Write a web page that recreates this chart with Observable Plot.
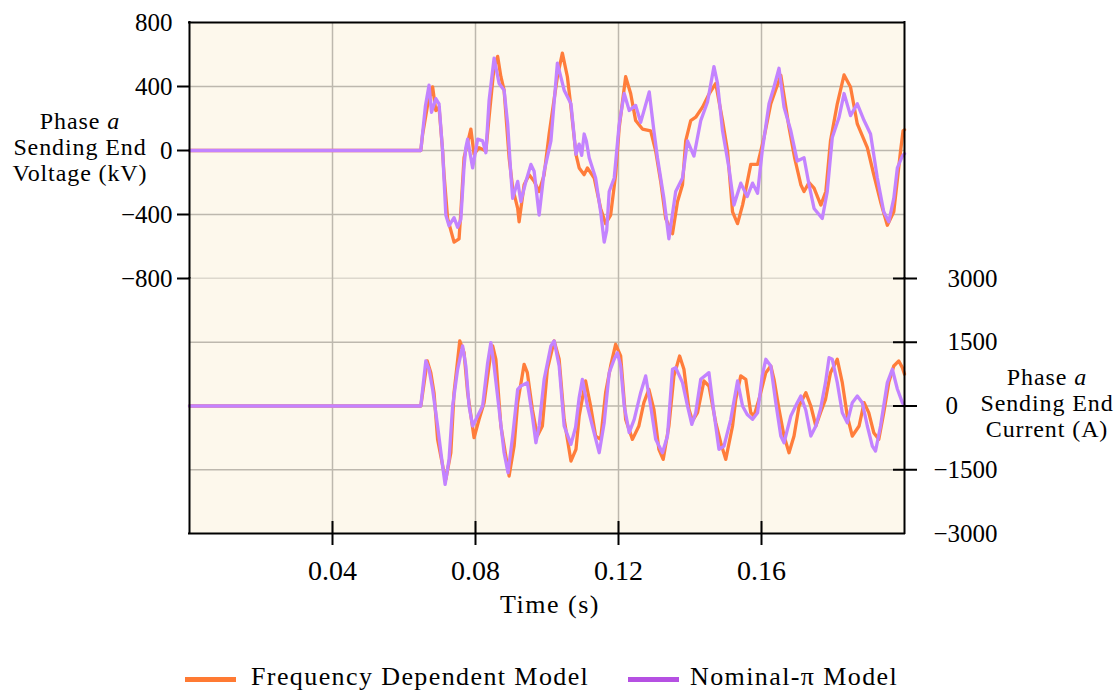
<!DOCTYPE html>
<html>
<head>
<meta charset="utf-8">
<script src="https://cdn.jsdelivr.net/npm/d3@7"></script>
<script src="https://cdn.jsdelivr.net/npm/@observablehq/plot@0.6"></script>
<style>
  body { margin: 0; background: #ffffff; }
  #fig { position: relative; width: 1117px; height: 692px; font-family: "Liberation Serif", serif; color: #000; overflow: hidden; }
  #fig svg { position: absolute; left: 0; }
  .lbl { position: absolute; font-size: 24px; line-height: 26px; text-align: center; white-space: nowrap; letter-spacing: 0.9px; transform: translate(-50%, -50%); }
  .xl { font-size: 26px; letter-spacing: 1.5px; }
  .leg { position: absolute; font-size: 26px; line-height: 30px; white-space: nowrap; letter-spacing: 1.4px; }
  .sw { position: absolute; height: 5px; width: 51px; }
</style>
</head>
<body>
<div id="fig">
  <div class="lbl" style="left:80px; top:147px;">Phase <i>a</i><br>Sending End<br>Voltage (kV)</div>
  <div class="lbl" style="left:1047px; top:403px;">Phase <i>a</i><br>Sending End<br>Current (A)</div>
  <div class="lbl xl" style="left:550px; top:605px;">Time (s)</div>
  <span class="sw" style="left:185px; top:677px; background:#ff7a33;"></span>
  <span class="leg" style="left:251px; top:662px;">Frequency Dependent Model</span>
  <span class="sw" style="left:628px; top:677px; background:#b550e2;"></span>
  <span class="leg" style="left:690px; top:662px;">Nominal-π Model</span>
</div>
<script>
// Phase a sending-end waveforms after the fault (time in s)
const timeTicks = [0.04, 0.08, 0.12, 0.16];
const voltageTicks = [800, 400, 0, -400, -800];
const currentTicks = [3000, 1500, 0, -1500, -3000];

// Frequency dependent model, voltage (kV)
const fdVoltageTime = [0, 0.0647, 0.0652, 0.0665, 0.0680, 0.0689, 0.0698, 0.0708, 0.0712, 0.0722, 0.0740, 0.0754, 0.0759, 0.0768, 0.0787, 0.0796, 0.0810, 0.0829, 0.0838, 0.0852, 0.0862, 0.0871, 0.0880, 0.0894, 0.0904, 0.0918, 0.0922, 0.0936, 0.0950, 0.0964, 0.0978, 0.0992, 0.1006, 0.1029, 0.1043, 0.1057, 0.1067, 0.1081, 0.1090, 0.1104, 0.1113, 0.1132, 0.1150, 0.1164, 0.1178, 0.1192, 0.1202, 0.1220, 0.1234, 0.1248, 0.1267, 0.1290, 0.1304, 0.1318, 0.1332, 0.1351, 0.1365, 0.1379, 0.1388, 0.1402, 0.1416, 0.1435, 0.1454, 0.1472, 0.1491, 0.1505, 0.1519, 0.1533, 0.1547, 0.1551, 0.1570, 0.1589, 0.1607, 0.1626, 0.1654, 0.1677, 0.1693, 0.1710, 0.1719, 0.1733, 0.1747, 0.1766, 0.1780, 0.1793, 0.1812, 0.1831, 0.1849, 0.1868, 0.1896, 0.1914, 0.1933, 0.1952, 0.1970, 0.1989, 0.1996, 0.2000];
const fdVoltage = [0, 0, 100, 271, 398, 250, 271, -3, -151, -425, -573, -552, -383, -45, 134, -24, 18, -3, 208, 525, 588, 461, 377, -45, -235, -362, -446, -214, -151, -193, -256, -151, 103, 461, 609, 461, 271, -24, -109, -151, -109, -172, -362, -457, -404, -151, 144, 461, 356, 187, 134, 123, -3, -193, -425, -520, -320, -214, 60, 187, 208, 271, 356, 419, 187, -3, -383, -457, -341, -299, -87, -87, 81, 292, 470, 144, -50, -214, -256, -200, -235, -341, -256, 60, 292, 472, 397, 166, 18, -150, -320, -467, -383, -3, 123, 130];

// Nominal-pi model, voltage (kV)
const piVoltageTime = [0, 0.0647, 0.0660, 0.0670, 0.0677, 0.0689, 0.0698, 0.0708, 0.0717, 0.0726, 0.0740, 0.0750, 0.0759, 0.0768, 0.0773, 0.0778, 0.0785, 0.0792, 0.0806, 0.0820, 0.0829, 0.0838, 0.0852, 0.0866, 0.0880, 0.0890, 0.0899, 0.0904, 0.0918, 0.0927, 0.0941, 0.0955, 0.0964, 0.0978, 0.0992, 0.1011, 0.1029, 0.1048, 0.1067, 0.1081, 0.1090, 0.1097, 0.1104, 0.1110, 0.1118, 0.1136, 0.1150, 0.1160, 0.1167, 0.1174, 0.1188, 0.1202, 0.1216, 0.1230, 0.1248, 0.1262, 0.1286, 0.1299, 0.1309, 0.1327, 0.1341, 0.1360, 0.1379, 0.1393, 0.1411, 0.1430, 0.1449, 0.1467, 0.1477, 0.1491, 0.1509, 0.1523, 0.1542, 0.1560, 0.1575, 0.1589, 0.1602, 0.1621, 0.1635, 0.1649, 0.1663, 0.1682, 0.1700, 0.1719, 0.1733, 0.1747, 0.1770, 0.1784, 0.1798, 0.1817, 0.1831, 0.1849, 0.1868, 0.1887, 0.1905, 0.1924, 0.1942, 0.1956, 0.1970, 0.1980, 0.1994, 0.2000];
const piVoltage = [0, 0, 280, 408, 239, 324, 292, -3, -404, -470, -420, -480, -430, -100, 18, 71, -20, -109, 71, 60, -14, 313, 577, 419, 377, 166, -151, -299, -193, -320, -193, -87, -130, -404, -130, 60, 546, 377, 292, -24, 40, -30, 103, 60, -45, -172, -383, -573, -500, -256, -172, 166, 356, 250, 282, 176, 366, 123, -45, -299, -552, -256, -172, 60, -35, 187, 303, 524, 419, 123, -109, -341, -204, -288, -204, -267, -3, 292, 397, 514, 271, 123, -66, -45, -214, -362, -425, -256, 81, 208, 356, 218, 292, 187, 103, -172, -383, -446, -299, -109, -35, -20];

// Frequency dependent model, current (A)
const fdCurrentTime = [0, 0.0647, 0.0665, 0.0675, 0.0684, 0.0694, 0.0712, 0.0717, 0.0731, 0.0740, 0.0756, 0.0768, 0.0778, 0.0796, 0.0810, 0.0824, 0.0843, 0.0848, 0.0857, 0.0871, 0.0894, 0.0908, 0.0918, 0.0936, 0.0945, 0.0959, 0.0973, 0.0987, 0.1001, 0.1020, 0.1034, 0.1048, 0.1067, 0.1081, 0.1090, 0.1108, 0.1122, 0.1136, 0.1150, 0.1164, 0.1178, 0.1192, 0.1206, 0.1220, 0.1239, 0.1257, 0.1271, 0.1285, 0.1299, 0.1313, 0.1325, 0.1341, 0.1355, 0.1371, 0.1383, 0.1397, 0.1407, 0.1421, 0.1439, 0.1453, 0.1472, 0.1486, 0.1500, 0.1519, 0.1528, 0.1542, 0.1556, 0.1570, 0.1579, 0.1593, 0.1612, 0.1626, 0.1635, 0.1649, 0.1663, 0.1677, 0.1691, 0.1705, 0.1724, 0.1738, 0.1752, 0.1765, 0.1779, 0.1793, 0.1812, 0.1826, 0.1840, 0.1854, 0.1873, 0.1887, 0.1900, 0.1914, 0.1928, 0.1942, 0.1956, 0.1970, 0.1984, 0.1994, 0.2000];
const fdCurrent = [0, 0, 1060, 785, 314, -785, -1570, -1727, -1099, 314, 1531, 1256, 314, -746, -314, 78, 1256, 1413, 1099, -471, -1649, -942, 78, 981, 785, -78, -707, -471, 864, 1531, 1099, -314, -1296, -1020, -236, 589, 0, -707, -785, 314, 942, 1452, 1177, -314, -785, -471, 78, 393, -78, -1020, -1256, -471, 707, 1177, 864, -78, -353, -157, 589, 471, -392, -864, -1256, -471, 157, 707, 628, -157, -236, 157, 785, 942, 628, -78, -707, -1099, -707, 0, 314, 0, -471, -157, 157, 785, 1099, 550, -236, -707, -471, 78, -157, -628, -785, -157, 550, 942, 1060, 903, 750];

// Nominal-pi model, current (A)
const piCurrentTime = [0, 0.0647, 0.0661, 0.0670, 0.0680, 0.0694, 0.0708, 0.0715, 0.0726, 0.0736, 0.0750, 0.0764, 0.0773, 0.0782, 0.0792, 0.0806, 0.0820, 0.0834, 0.0843, 0.0852, 0.0866, 0.0880, 0.0891, 0.0904, 0.0918, 0.0927, 0.0945, 0.0959, 0.0969, 0.0978, 0.0992, 0.1011, 0.1020, 0.1034, 0.1048, 0.1067, 0.1080, 0.1090, 0.1099, 0.1113, 0.1127, 0.1146, 0.1160, 0.1174, 0.1188, 0.1197, 0.1206, 0.1216, 0.1230, 0.1244, 0.1262, 0.1276, 0.1290, 0.1304, 0.1323, 0.1337, 0.1351, 0.1360, 0.1379, 0.1393, 0.1405, 0.1416, 0.1430, 0.1453, 0.1467, 0.1481, 0.1495, 0.1514, 0.1533, 0.1547, 0.1560, 0.1575, 0.1589, 0.1602, 0.1612, 0.1626, 0.1640, 0.1654, 0.1663, 0.1682, 0.1700, 0.1710, 0.1724, 0.1738, 0.1752, 0.1765, 0.1779, 0.1789, 0.1798, 0.1812, 0.1826, 0.1840, 0.1854, 0.1868, 0.1882, 0.1896, 0.1910, 0.1919, 0.1933, 0.1952, 0.1966, 0.1980, 0.1994, 0.2000];
const piCurrent = [0, 0, 1060, 864, 393, -471, -1413, -1845, -1256, 0, 864, 1413, 942, 0, -471, -236, 0, 1020, 1492, 942, -78, -1099, -1570, -707, 393, 471, 550, -236, -864, -471, 628, 1413, 1531, 942, -471, -903, -500, 200, 628, 0, -471, -1099, -392, 785, 1099, 1256, 942, 0, -628, -314, 314, 707, 0, -785, -1099, -707, 864, 903, 550, 0, -432, -157, 628, 785, -157, -1020, -942, -314, 589, 0, -200, -314, -157, 707, 1099, 942, 78, -707, -864, -236, 78, 236, -100, -707, -471, -78, 550, 1138, 1099, 550, -157, -392, 78, 236, 78, -471, -942, -1060, -471, 550, 864, 400, 78, 0];

const W = 1117;
const FONT = '"Liberation Serif", serif';
const BG = "#fdf8ec";
const GRID = "#bdb8ae";
const ORANGE = "#ff7d3b";
const PURPLE = "#c383ff";
const fmt = d => (d < 0 ? "\u2212" : "") + Math.abs(d);
const gridStyle = {stroke: GRID, strokeOpacity: 1, strokeWidth: 1.5};
const spine = {stroke: "black", strokeWidth: 2, strokeLinecap: "square"};
const lineStyle = {strokeWidth: 3.3, strokeLinejoin: "round"};
const svgStyle = {overflow: "visible", fontFamily: FONT, fontSize: "25px", background: "transparent", color: "black"};

// Upper panel: voltage (shares the time scale with the lower panel, no x axis of its own)
const upper = Plot.plot({
  width: W, height: 278,
  marginTop: 22, marginBottom: 0, marginLeft: 189, marginRight: 213,
  x: {domain: [0, 0.2], axis: null},
  y: {domain: [-800, 800]},
  style: svgStyle,
  marks: [
    Plot.frame({fill: BG, stroke: "none"}),
    Plot.gridX(timeTicks, gridStyle),
    Plot.gridY(voltageTicks.slice(1), gridStyle),
    Plot.line(fdVoltage, {x: fdVoltageTime, y: fdVoltage, stroke: ORANGE, ...lineStyle}),
    Plot.line(piVoltage, {x: piVoltageTime, y: piVoltage, stroke: PURPLE, ...lineStyle}),
    Plot.ruleX([0, 0.2], spine),
    Plot.ruleY([800], spine),
    Plot.axisY(voltageTicks.slice(1), {anchor: "left", tickSize: 12, tickPadding: 5, strokeWidth: 2, tickFormat: fmt, label: null}),
    Plot.axisY([800], {anchor: "left", tickSize: 0, tickPadding: 17, tickFormat: fmt, label: null})
  ]
});

// Lower panel: current
const lower = Plot.plot({
  width: W, height: 342,
  marginTop: 0, marginBottom: 87, marginLeft: 189, marginRight: 213,
  x: {domain: [0, 0.2]},
  y: {domain: [-3000, 3000]},
  style: svgStyle,
  marks: [
    Plot.frame({fill: BG, stroke: "none"}),
    Plot.gridX(timeTicks, gridStyle),
    Plot.gridY([1500, 0, -1500], gridStyle),
    Plot.line(fdCurrent, {x: fdCurrentTime, y: fdCurrent, stroke: ORANGE, ...lineStyle}),
    Plot.line(piCurrent, {x: piCurrentTime, y: piCurrent, stroke: PURPLE, ...lineStyle}),
    Plot.ruleX([0, 0.2], spine),
    Plot.ruleY([-3000], spine),
    Plot.axisX(timeTicks, {anchor: "bottom", tickSize: 24, dy: -12, fill: "none", strokeWidth: 2, label: null}),
    Plot.axisX(timeTicks, {anchor: "bottom", tickSize: 0, tickPadding: 27, fontSize: 28, tickFormat: d => d.toFixed(2), label: null}),
    Plot.axisY(currentTicks.slice(0, 4), {anchor: "right", tickSize: 24, dx: -12, fill: "none", strokeWidth: 2, label: null}),
    Plot.axisY(currentTicks.filter(d => d !== 0), {anchor: "right", tickSize: 0, tickPadding: 93, textAnchor: "end", tickFormat: fmt, label: null}),
    Plot.axisY([0], {anchor: "right", tickSize: 0, tickPadding: 41, tickFormat: fmt, label: null})
  ]
});

upper.style.top = "0px";
lower.style.top = "278px";
const fig = document.getElementById("fig");
fig.prepend(lower);
fig.prepend(upper);
</script>
</body>
</html>
